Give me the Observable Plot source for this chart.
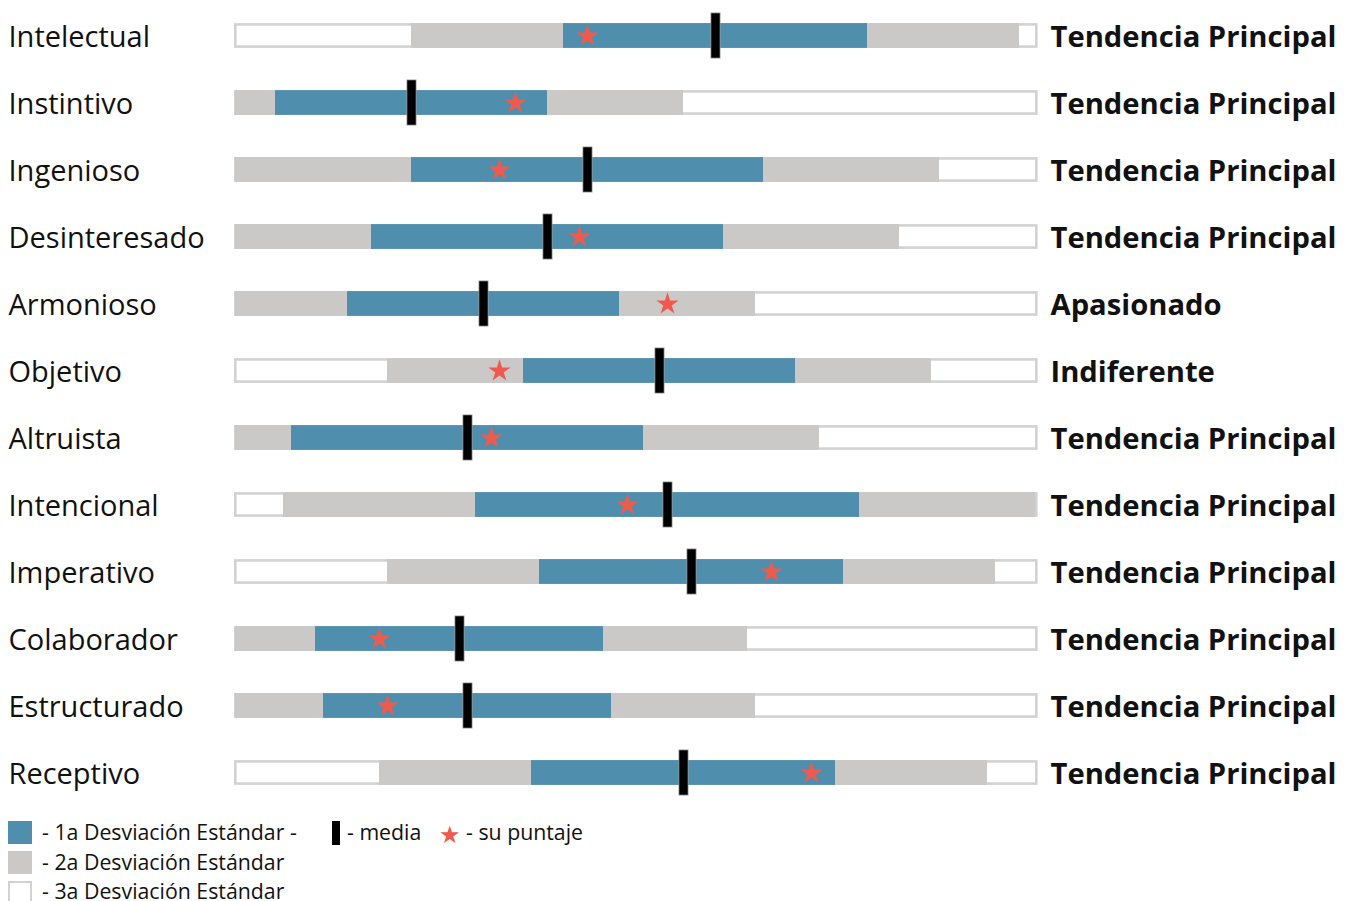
<!DOCTYPE html>
<html><head><meta charset="utf-8">
<script src="https://cdn.jsdelivr.net/npm/d3@7"></script>
<script src="https://cdn.jsdelivr.net/npm/@observablehq/plot@0.6"></script>
<style>
body{margin:0;background:#fff;font-family:"Open Sans",sans-serif;color:#111;}
#wrap{position:relative;width:1351px;height:901px;overflow:hidden;}
#legend{position:absolute;left:0;top:0;width:1351px;height:901px;pointer-events:none;}
.sw{position:absolute;box-sizing:border-box;}
.lt{position:absolute;font-size:21.3px;line-height:24px;white-space:nowrap;color:#111;}
</style></head><body>
<div id="wrap"><div id="chart"></div><div id="legend"></div></div>
<script>
const traits = ["Intelectual","Instintivo","Ingenioso","Desinteresado","Armonioso","Objetivo","Altruista","Intencional","Imperativo","Colaborador","Estructurado","Receptivo"];
const means  = [60,22,44,39,31,53,29,54,57,28,29,56];
const sds    = [19,17,22,22,17,17,22,24,19,18,18,19];
const scores = [44,35,33,43,54,33,32,49,67,18,19,72];
const tendencies = ["Tendencia Principal","Tendencia Principal","Tendencia Principal","Tendencia Principal","Apasionado","Indiferente","Tendencia Principal","Tendencia Principal","Tendencia Principal","Tendencia Principal","Tendencia Principal","Tendencia Principal"];
const xDomain = [0, 100];
const legendLabels = ["- 1a Desviación Estándar -","- 2a Desviación Estándar","- 3a Desviación Estándar","- media","- su puntaje"];

const BLUE = "#4f8fad", GRAY = "#cac9c7", BORDER = "#d2d2d2", STAR = "#ef5a4d";

const rows = traits.map((t, i) => ({
  trait: t, mean: means[i], sd: sds[i], score: scores[i], tend: tendencies[i],
  x0: xDomain[0], x100: xDomain[1],
  lo1: Math.max(xDomain[0], means[i] - sds[i]), hi1: Math.min(xDomain[1], means[i] + sds[i]),
  lo2: Math.max(xDomain[0], means[i] - 2*sds[i]), hi2: Math.min(xDomain[1], means[i] + 2*sds[i])
}));

const H = 807, step = H / traits.length, barH = 25, inset = (step - barH) / 2;

const chart = Plot.plot({
  width: 1351, height: H,
  marginLeft: 235, marginRight: 316, marginTop: 0, marginBottom: 0,
  x: {domain: xDomain, axis: null},
  y: {type: "band", domain: traits, paddingInner: 0, paddingOuter: 0, axis: null},
  style: {fontFamily: "Open Sans", background: "white"},
  marks: [
    Plot.barX(rows, {y: "trait", x1: "x0", x2: "x100", fill: "white", stroke: BORDER, strokeWidth: 2.6,
      insetTop: inset + 1.3, insetBottom: inset + 1.3, insetLeft: 0.3, insetRight: -1.3}),
    Plot.barX(rows, {y: "trait", x1: "lo2", x2: "hi2", fill: GRAY, insetTop: inset, insetBottom: inset}),
    Plot.barX(rows, {y: "trait", x1: "lo1", x2: "hi1", fill: BLUE, insetTop: inset, insetBottom: inset}),
    Plot.dot(rows, {y: "trait", x: "score", symbol: "star", fill: STAR, r: 7}),
    Plot.tickX(rows, {y: "trait", x: "mean", stroke: "#999", strokeWidth: 10, insetTop: 10.5, insetBottom: 10.5}),
    Plot.tickX(rows, {y: "trait", x: "mean", stroke: "black", strokeWidth: 8.4, insetTop: 11.3, insetBottom: 11.3}),
    Plot.text(rows, {y: "trait", text: "trait", frameAnchor: "left", textAnchor: "start", dx: -227, dy: 2,
      fontSize: 29, fill: "#111"}),
    Plot.text(rows, {y: "trait", text: "tend", frameAnchor: "right", textAnchor: "start", dx: 15, dy: 2,
      fontSize: 29.2, fontWeight: "bold", fill: "#111"})
  ]
});
document.getElementById("chart").appendChild(chart);

const lg = document.getElementById("legend");
function add(html){ lg.insertAdjacentHTML("beforeend", html); }
// row 1
add(`<div class="sw" style="left:8px;top:821px;width:24px;height:23px;background:${BLUE}"></div>`);
add(`<div class="lt" style="left:42px;top:820px">${legendLabels[0]}</div>`);
add(`<div class="sw" style="left:332px;top:821px;width:8px;height:24px;background:#000"></div>`);
add(`<div class="lt" style="left:347px;top:820px">${legendLabels[3]}</div>`);
add(`<div class="lt" style="left:439px;top:822px;color:${STAR};font-size:24px">★</div>`);
add(`<div class="lt" style="left:466px;top:820px">${legendLabels[4]}</div>`);
// row 2
add(`<div class="sw" style="left:8px;top:851px;width:24px;height:23px;background:${GRAY}"></div>`);
add(`<div class="lt" style="left:42px;top:850px">${legendLabels[1]}</div>`);
// row 3
add(`<div class="sw" style="left:8px;top:881px;width:24px;height:23px;background:#fff;border:2px solid ${BORDER}"></div>`);
add(`<div class="lt" style="left:42px;top:879px">${legendLabels[2]}</div>`);
</script>
</body></html>
